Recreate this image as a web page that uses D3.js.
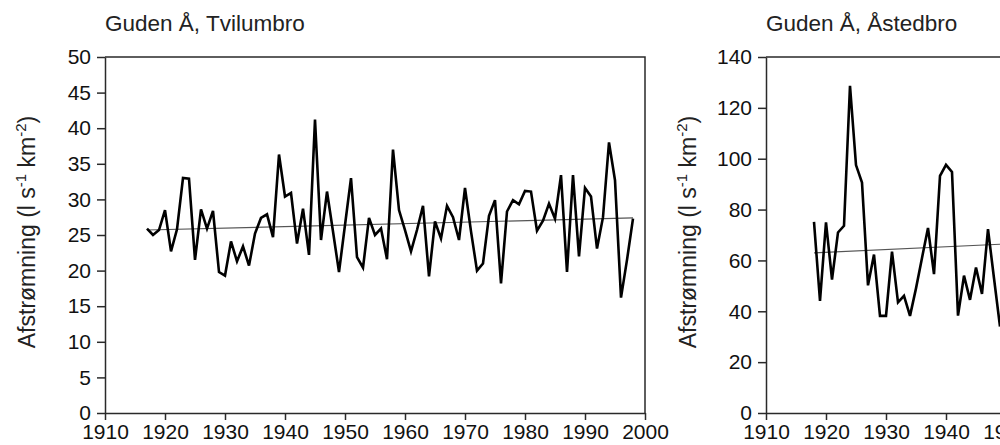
<!DOCTYPE html>
<html>
<head>
<meta charset="utf-8">
<script src="https://cdn.jsdelivr.net/npm/d3@7"></script>
<style>
  html, body { margin: 0; padding: 0; background: #fff; }
  svg { display: block; font-family: "Liberation Sans", Arial, sans-serif; }
</style>
</head>
<body>
<svg id="chart" width="1000" height="445"></svg>
<script>
// ---------- data ----------
const tvilumbroYears = d3.range(1917, 1999);
const tvilumbroValues = [
  25.9, 25.0, 25.7, 28.5, 22.7, 25.8, 33.0, 32.9, 21.5, 28.6,
  25.9, 28.4, 19.8, 19.3, 24.1, 21.3, 23.4, 20.7, 25.2, 27.4,
  27.9, 24.7, 36.3, 30.4, 30.9, 23.8, 28.7, 22.2, 41.2, 24.3,
  31.1, 25.5, 19.8, 26.4, 33.0, 21.9, 20.4, 27.4, 25.0, 25.9,
  21.6, 37.0, 28.5, 25.7, 22.7, 25.7, 29.1, 19.2, 26.9, 24.5,
  29.1, 27.5, 24.3, 31.6, 25.5, 20.0, 21.0, 27.7, 29.9, 18.2,
  28.3, 29.9, 29.3, 31.2, 31.1, 25.6, 27.0, 29.4, 27.3, 33.4,
  19.8, 33.4, 22.0, 31.6, 30.4, 23.1, 27.5, 38.0, 32.7, 16.2,
  21.5, 27.3
];
const tvilumbroTrendYears = [1917, 1998];
const tvilumbroTrendValues = [25.7, 27.4];

const astedbroYears = d3.range(1918, 1950);
const astedbroValues = [
  75.2, 44.1, 75.0, 52.5, 71.0, 73.6, 128.7, 97.5, 90.6, 50.2,
  62.3, 38.2, 38.2, 63.5, 43.5, 46.1, 38.2, 49.0, 61.0, 72.8,
  54.6, 93.3, 97.6, 94.8, 38.3, 54.0, 44.5, 57.2, 46.8, 72.3,
  53.0, 34.0
];
const astedbroTrendYears = [1918, 1998];
const astedbroTrendValues = [63.0, 71.7];

const xTicks = [1910, 1920, 1930, 1940, 1950, 1960, 1970, 1980, 1990, 2000];
const tvilumbroYTicks = [0, 5, 10, 15, 20, 25, 30, 35, 40, 45, 50];
const astedbroYTicks = [0, 20, 40, 60, 80, 100, 120, 140];

const titles = ["Guden Å, Tvilumbro", "Guden Å, Åstedbro"];

// ---------- drawing ----------
const svg = d3.select("#chart");
const plotTop = 57, plotBottom = 413;
const axisColor = "#2a2a2a";

function panel(opts) {
  const x = d3.scaleLinear().domain([1910, 2000]).range([opts.left, opts.left + 540]);
  const y = d3.scaleLinear().domain([0, opts.ymax]).range([plotBottom, plotTop]);
  const g = svg.append("g");

  // frame (top and right)
  g.append("path")
    .attr("d", `M${x(1910)},${plotTop}H${x(2000)}V${plotBottom}`)
    .attr("fill", "none").attr("stroke", axisColor).attr("stroke-width", 1.5);

  // axes
  const ya = g.append("g").attr("transform", `translate(${x(1910)},0)`)
    .call(d3.axisLeft(y).tickValues(opts.yTicks).tickSize(8).tickPadding(6).tickSizeOuter(0));
  const xa = g.append("g").attr("transform", `translate(0,${plotBottom})`)
    .call(d3.axisBottom(x).tickValues(xTicks).tickFormat(d3.format("d")).tickSize(7).tickPadding(4).tickSizeOuter(0));
  [ya, xa].forEach(a => {
    a.select(".domain").attr("stroke", axisColor).attr("stroke-width", 1.5);
    a.selectAll(".tick line").attr("stroke", axisColor).attr("stroke-width", 1.5);
    a.selectAll(".tick text").attr("fill", "#111").style("font-size", "21px")
      .style("font-family", '"Liberation Sans", Arial, sans-serif');
  });

  // trend line
  const trend = opts.trendYears.map((yr, i) => [yr, opts.trendValues[i]]);
  g.append("path")
    .attr("d", d3.line().x(d => x(d[0])).y(d => y(d[1]))(trend))
    .attr("fill", "none").attr("stroke", "#555").attr("stroke-width", 1.2);

  // data line
  const pts = opts.years.map((yr, i) => [yr, opts.values[i]]);
  g.append("path")
    .attr("d", d3.line().x(d => x(d[0])).y(d => y(d[1]))(pts))
    .attr("fill", "none").attr("stroke", "#000").attr("stroke-width", 2.6)
    .attr("stroke-linejoin", "miter");

  // title
  g.append("text").attr("x", x(1910)).attr("y", 31)
    .attr("fill", "#222").style("font-size", "22.5px").text(opts.title);

  // y label
  const lab = g.append("text")
    .attr("transform", `translate(${x(1910) - 70},${(plotTop + plotBottom) / 2 - 3}) rotate(-90)`)
    .attr("text-anchor", "middle").attr("fill", "#222").style("font-size", "23px");
  lab.append("tspan").text("Afstrømning (l s");
  lab.append("tspan").attr("dy", -9).style("font-size", "15px").text("-1");
  lab.append("tspan").attr("dy", 9).text(" km");
  lab.append("tspan").attr("dy", -9).style("font-size", "15px").text("-2");
  lab.append("tspan").attr("dy", 9).text(")");
}

panel({
  left: 105, ymax: 50, yTicks: tvilumbroYTicks,
  years: tvilumbroYears, values: tvilumbroValues,
  trendYears: tvilumbroTrendYears, trendValues: tvilumbroTrendValues,
  title: titles[0]
});
panel({
  left: 766, ymax: 140, yTicks: astedbroYTicks,
  years: astedbroYears, values: astedbroValues,
  trendYears: astedbroTrendYears, trendValues: astedbroTrendValues,
  title: titles[1]
});
</script>
</body>
</html>
